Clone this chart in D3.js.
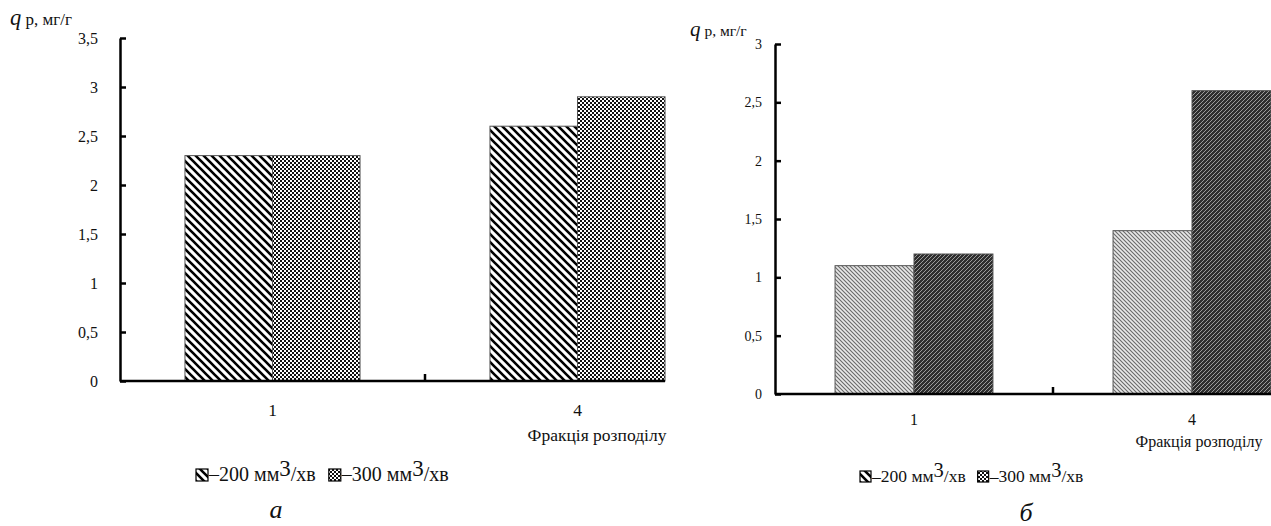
<!DOCTYPE html>
<html>
<head>
<meta charset="utf-8">
<script src="https://cdn.jsdelivr.net/npm/d3@7"></script>
<style>
  body { margin: 0; background: #fff; }
  svg, svg text { font-family: "Liberation Serif", "DejaVu Serif", serif; fill: #111; }
</style>
</head>
<body>
<div id="chart"></div>
<script>
var categories = ["1", "4"];
var series = ["200", "300"];
var valuesA = [[2.3, 2.3], [2.6, 2.9]];   // panel a: [category][series]
var valuesB = [[1.1, 1.2], [1.4, 2.6]];   // panel б
var ticksA = [0, 0.5, 1, 1.5, 2, 2.5, 3, 3.5];
var ticksB = [0, 0.5, 1, 1.5, 2, 2.5, 3];

var FONT = '"Liberation Serif", "DejaVu Serif", serif';
var fmt = function (d) { return String(d).replace(".", ","); };

var svg = d3.select('#chart')
  .append('svg')
    .attr('width', 1271)
    .attr('height', 526)
    .attr('font-family', FONT);

var defs = svg.append('defs');

// stripes "\\\" black on white
var p = defs.append('pattern').attr('id', 'pA200').attr('patternUnits', 'userSpaceOnUse')
  .attr('width', 8).attr('height', 8);
p.append('rect').attr('width', 8).attr('height', 8).attr('fill', '#fff');
p.append('path').attr('d', 'M-2,-2 L10,10 M-2,6 L2,10 M6,-2 L10,2')
  .attr('stroke', '#000').attr('stroke-width', 2.6);

// fine checker
p = defs.append('pattern').attr('id', 'pA300').attr('patternUnits', 'userSpaceOnUse')
  .attr('width', 4).attr('height', 4);
p.append('rect').attr('width', 4).attr('height', 4).attr('fill', '#fff');
p.append('rect').attr('width', 2).attr('height', 2).attr('fill', '#111');
p.append('rect').attr('x', 2).attr('y', 2).attr('width', 2).attr('height', 2).attr('fill', '#111');

// light fine "\\\"
p = defs.append('pattern').attr('id', 'pB200').attr('patternUnits', 'userSpaceOnUse')
  .attr('width', 4).attr('height', 4);
p.append('rect').attr('width', 4).attr('height', 4).attr('fill', '#e8e8e8');
p.append('path').attr('d', 'M-1,-1 L5,5 M-1,3 L1,5 M3,-1 L5,1')
  .attr('stroke', '#6a6a6a').attr('stroke-width', 1.1);

// dark fine "///"
p = defs.append('pattern').attr('id', 'pB300').attr('patternUnits', 'userSpaceOnUse')
  .attr('width', 4).attr('height', 4);
p.append('rect').attr('width', 4).attr('height', 4).attr('fill', '#2e2e2e');
p.append('path').attr('d', 'M-1,5 L5,-1 M-1,1 L1,-1 M3,5 L5,3')
  .attr('stroke', '#9a9a9a').attr('stroke-width', 1);

function panel(cfg) {
  var g = svg.append('g');
  var y = d3.scaleLinear().domain([0, cfg.ymax]).range([cfg.y0, cfg.y1]);
  var x0 = d3.scaleBand().domain(categories).range([cfg.x0, cfg.x0 + cfg.step * 2]);
  var bw = x0.bandwidth();
  var x1 = d3.scaleBand().domain(series).range([bw * cfg.gap, bw * (1 - cfg.gap)]);

  // bars
  categories.forEach(function (c, ci) {
    g.selectAll(null)
      .data(cfg.values[ci])
      .enter()
        .append('rect')
          .attr('x', function (v, si) { return x0(c) + x1(series[si]); })
          .attr('y', function (v) { return y(v); })
          .attr('width', x1.bandwidth())
          .attr('height', function (v) { return cfg.y0 - y(v); })
          .attr('fill', function (v, si) { return 'url(#' + cfg.pats[si] + ')'; })
          .attr('stroke', '#555')
          .attr('stroke-width', 1);
  });

  // y axis
  var ya = g.append('g')
    .attr('transform', 'translate(' + cfg.x0 + ',0)')
    .call(d3.axisLeft(y).tickValues(cfg.ticks).tickFormat(fmt)
      .tickSizeInner(-6).tickSizeOuter(0).tickPadding(cfg.pad));
  ya.attr('font-family', FONT);
  ya.select('.domain').attr('stroke', '#000').attr('stroke-width', 2.5);
  ya.selectAll('.tick line').attr('stroke', '#000').attr('stroke-width', 2.5);
  ya.selectAll('.tick text')
    .attr('font-size', cfg.fs).attr('fill', '#111');

  // x axis line (panel is cut on the right)
  g.append('line')
    .attr('x1', cfg.x0).attr('x2', cfg.xEnd)
    .attr('y1', cfg.y0).attr('y2', cfg.y0)
    .attr('stroke', '#000').attr('stroke-width', 2.5);
  g.append('line')
    .attr('x1', x0('4')).attr('x2', x0('4'))
    .attr('y1', cfg.y0).attr('y2', cfg.y0 - 7)
    .attr('stroke', '#000').attr('stroke-width', 2.5);

  g.selectAll(null)
    .data(categories)
    .enter()
      .append('text')
        .attr('x', function (c) { return x0(c) + bw / 2; })
        .attr('y', cfg.y0 + cfg.catDy)
        .attr('text-anchor', 'middle')
        .attr('font-size', cfg.lfs)
        .text(function (c) { return c; });

  g.append('text')
    .attr('x', cfg.fracX).attr('y', cfg.fracY)
    .attr('text-anchor', 'middle')
    .attr('font-size', cfg.lfs)
    .text('Фракція розподілу');

  // y title
  var t = g.append('text').attr('x', cfg.titleX).attr('y', cfg.titleY).attr('font-size', cfg.lfs - 0.5);
  t.append('tspan').attr('font-style', 'italic').attr('font-size', cfg.lfs + 5).text('q');
  t.append('tspan').text(' р, мг/г');

  // legend
  var lg = g.append('g').attr('transform', 'translate(' + cfg.legX + ',' + cfg.legY + ')');
  var lx = 0;
  series.forEach(function (s, si) {
    lg.append('rect')
      .attr('x', lx).attr('y', -cfg.sq)
      .attr('width', cfg.sq).attr('height', cfg.sq)
      .attr('fill', 'url(#' + (si == 0 ? 'pA200' : 'pA300') + ')')
      .attr('stroke', '#000').attr('stroke-width', 1.2);
    var tx = lg.append('text').attr('x', lx + cfg.sq + 1).attr('y', 0).attr('font-size', cfg.gfs);
    tx.append('tspan').text('–' + s + ' мм');
    tx.append('tspan').attr('dy', -5).attr('font-size', cfg.gfs + 3).text('3');
    tx.append('tspan').attr('dy', 5).text('/хв');
    lx = lx + cfg.sq + 1 + tx.node().getComputedTextLength() + cfg.legGap;
  });

  g.append('text')
    .attr('x', cfg.capX).attr('y', cfg.capY)
    .attr('font-size', 26).attr('font-style', 'italic')
    .attr('text-anchor', 'middle')
    .text(cfg.cap);
}

panel({
  values: valuesA, ticks: ticksA, ymax: 3.5,
  x0: 120, step: 305, xEnd: 665, y0: 381, y1: 38, gap: 0.213,
  pats: ['pA200', 'pA300'], fs: 16, lfs: 17.5, gfs: 20, pad: 22, catDy: 35,
  fracX: 597, fracY: 441, titleX: 10, titleY: 25,
  legX: 196, legY: 481, sq: 12, legGap: 13, cap: 'а', capX: 276, capY: 518
});

panel({
  values: valuesB, ticks: ticksB, ymax: 3,
  x0: 775, step: 278, xEnd: 1271, y0: 394, y1: 44, gap: 0.216,
  pats: ['pB200', 'pB300'], fs: 14, lfs: 16, gfs: 17.5, pad: 13, catDy: 31,
  fracX: 1199, fracY: 447, titleX: 690, titleY: 36,
  legX: 860, legY: 482, sq: 11, legGap: 12, cap: 'б', capX: 1026, capY: 521
});
</script>
</body>
</html>
